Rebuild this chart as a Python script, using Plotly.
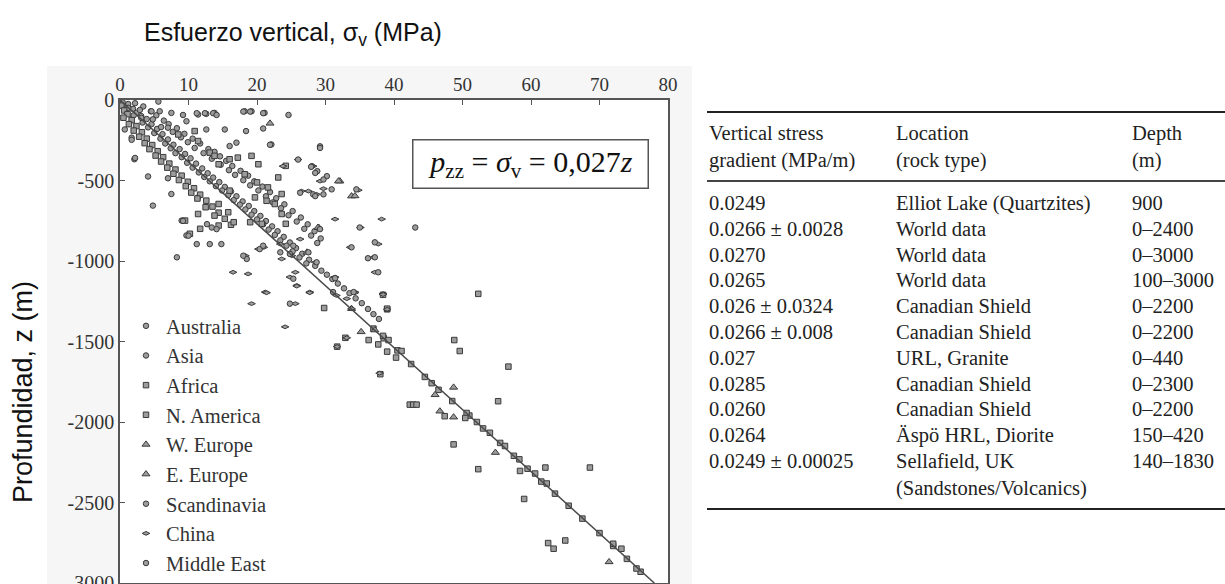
import plotly.graph_objects as go

# ---------------- data ----------------
x_ticks = [0, 10, 20, 30, 40, 50, 60, 70, 80]
y_ticks = [0, -500, -1000, -1500, -2000, -2500, -3000]
y_ticktext = ["0", "-500", "-1000", "-1500", "-2000", "-2500", "-3000"]

# (vertical stress MPa, depth m)
australia = [(0.4,-15),(1.2,-25),(0.9,-50),(1.9,-55),(2.4,-80),(2.0,-95),(3.1,-100),(3.9,-118),(3.3,-140),(4.6,-150),
             (4.1,-170),(5.4,-180),(5.0,-205),(6.2,-212),(5.9,-240),(7.0,-245),(6.6,-270),(7.8,-278),(7.4,-300),(8.7,-305),
             (8.1,-330),(9.5,-335),(9.0,-355),(10.3,-362),(9.8,-390),(11.1,-395),(10.6,-420),(12.0,-425),(11.5,-450),(12.8,-455),
             (12.3,-478),(13.6,-482),(13.1,-505),(14.5,-510),(14.0,-535),(15.3,-540),(14.9,-562),(16.2,-568),(15.8,-590),(17.0,-598),
             (16.6,-622),(17.9,-630),(17.5,-650),(18.8,-658),(18.3,-680),(19.6,-690),(19.2,-712),(20.5,-720),(20.0,-742),(21.3,-752),
             (20.9,-772),(22.2,-785),(21.7,-805),(23.0,-815),(22.6,-838),(23.9,-850),(23.4,-872),(24.8,-885),(24.3,-905),(25.7,-920),
             (25.2,-940),(26.6,-955),(26.2,-978),(27.6,-992),(27.2,-1015),(28.5,-1030),(29.4,-1060),(30.2,-1085),(31.0,-1112),(31.8,-1140),
             (32.7,-1170),(33.5,-1200),(34.4,-1232),(35.3,-1262),(36.2,-1298),(37.0,-1330),(37.8,-1360)]
asia = [(2.2,-20),(3.4,-40),(2.9,-62),(4.5,-70),(5.3,-95),(4.8,-120),(6.4,-128),(7.1,-150),(6.0,-168),(8.3,-175),
        (7.7,-198),(9.4,-210),(8.9,-232),(10.6,-240),(9.9,-262),(11.7,-270),(10.9,-298),(12.9,-305),(12.2,-330),(13.8,-322),
        (14.6,-350),(13.4,-365),(15.5,-378),(14.7,-402),(16.4,-410),(15.9,-436),(17.6,-440),(16.8,-465),(18.7,-470),(18.0,-498),
        (19.6,-505),(19.0,-530),(20.8,-538),(20.2,-562),(21.9,-572),(21.3,-598),(22.8,-610),(22.3,-636),(24.0,-648),(23.5,-672),
        (25.2,-690),(24.6,-716),(26.4,-730),(25.8,-755),(27.4,-772),(26.9,-800),(28.4,-815),(27.9,-842),(29.3,-860),(28.8,-888),
        (0.7,-183),(1.7,-234),(2.1,-368),(4.1,-475),(4.8,-656),(9.0,-749),(9.7,-841),(7.0,-486),(7.5,-584),(11.4,-605),
        (13.8,-80),(12.6,-86),(11.4,-90),(18.2,-70),(19.2,-70),(21.1,-80),(20.9,-177),(18.4,-193),(17.0,-265),(16.0,-286),
        (22.1,-276),(15.3,-183),(12.6,-183),(9.7,-132),(7.5,-80),(5.8,-70),(1.2,-49),(4.6,-70),(3.1,-111),(7.0,-172)]
africa = [(0.2,-35),(0.6,-65),(1.1,-88),(0.5,-110),(1.7,-125),(1.3,-150),(2.4,-162),(2.0,-190),(3.2,-200),(2.8,-228),
          (3.9,-240),(3.6,-268),(4.7,-280),(4.3,-305),(5.5,-318),(5.2,-345),(6.3,-355),(6.0,-382),(7.2,-395),(6.9,-420),
          (8.1,-432),(7.8,-458),(9.0,-470),(8.6,-497),(9.9,-508),(9.6,-535),(10.8,-548),(10.4,-575),(11.7,-588),(11.3,-612),
          (12.6,-625),(13.5,-662),(14.4,-700),(15.3,-738),(16.2,-775),
          (8.5,-214),(10.9,-193),(11.4,-255),(13.1,-327),(13.8,-347),(14.4,-399),(16.0,-368),(17.2,-358),(19.2,-347),(20.2,-399),
          (18.2,-461),(20.0,-512),(21.6,-543),(23.1,-481),(24.2,-409),(23.6,-584),(22.6,-646),(21.4,-626),(19.7,-605),(16.0,-563),
          (14.4,-646),(12.5,-666),(11.4,-708),(13.8,-718),(15.8,-697),(16.6,-759),(19.0,-759),(20.7,-769),(23.6,-708),(24.2,-769),
          (9.5,-749),(10.2,-831),(11.7,-800),(14.4,-780)]
n_america = [(37,-1420),(38.5,-1480),(40.5,-1555),(42.5,-1640),(44.5,-1720),(46.5,-1800),(48.5,-1870),(51,-1960),(53,-2040),(55.5,-2130),
             (57.5,-2210),(59.5,-2290),(61.5,-2370),(63.5,-2445),(65.5,-2520),(67.5,-2600),(70,-2690),(72,-2770),(74,-2850),(76,-2930),
             (29.8,-1292),(39,-1300),(32.9,-1477),(31.7,-1532),(36.3,-1491),(38.4,-1465),(39.2,-1491),(37.7,-1518),(39.0,-1563),(40.3,-1600),
             (41.1,-1559),(38,-1703),(45.5,-1759),(42.3,-1892),(42.8,-1892),(43.3,-1892),(47.4,-1964),(50.6,-1944),(50.4,-1975),(52.1,-2000),
             (54.0,-2067),(48.7,-2139),(48.8,-1491),(49.6,-1559),(56.7,-1656),(55.2,-1871),(56.2,-2149),(52.3,-2293),(58.4,-2304),(58.3,-2232),
             (60.6,-2320),(62.1,-2283),(62.3,-2382),(68.6,-2283),(59,-2478),(62.5,-2752),(63.3,-2787),(65,-2736),(72,-2756),(73.2,-2787),
             (75.4,-2910),(52.3,-1204),(38.4,-1210),(39.0,-1296)]
w_europe = [(35.2,-1440),(37.2,-1429),(48.7,-1785),(46,-1831),(46.7,-1933),(48.7,-1970),(54.8,-2190),(71.4,-2869),
            (32.1,-504),(33.8,-597),(29,-792)]
e_europe = [(31.9,-504),(34.3,-596),(28.9,-792),(27.3,-946),(21.9,-145),(33.8,-1296)]
scandinavia = [(5.6,-10),(9.2,-93),(11.2,-82),(12.4,-82),(13.6,-82),(14.1,-93),(18,-72),(19,-72),(20.9,-82),(24.6,-93),
               (1.7,-247),(2.2,-360),(9.2,-751),(10,-843),(11.2,-895),(8.3,-977),(13.1,-895),(14.8,-895),(13.4,-792),(14.1,-802),
               (12.7,-771)]
china = [(26.0,-370),(28.2,-411),(23.8,-411),(29.2,-504),(26.5,-566),(27.5,-566),(28.7,-586),(29.7,-551),(34.8,-560),(31.4,-740),
         (38.2,-740),(35.1,-792),(26.3,-864),(33.6,-915),(37.7,-895),(37,-977),(28.5,-1008),(37.2,-1070),(31.4,-1100),(27.7,-1193),
         (21.2,-1193),(34.3,-1193),(38.4,-1203),(24.8,-1100),(25.6,-1070),(25.8,-1152),(23.6,-987),(25.1,-967),(21,-915),(20.2,-926),
         (18.3,-967),(16.5,-1070),(18.7,-1080),(23.4,-895),
         (21.4,-1197),(25.8,-1156),(27.7,-1197),(19.2,-1265),(25.6,-1265),(24.1,-1409),(31.6,-1214),(33.1,-1234),(33.8,-1296),(34.3,-1197),
         (38.4,-1208),(39.0,-1300),(33.1,-1477),(31.7,-1532),(37.9,-1697)]
middle_east = [(21.9,-278),(26,-370),(29.2,-288),(28,-411),(28.8,-442),(30.2,-473),(30.9,-555),(26.3,-576),(28.2,-586),(29.7,-586),
               (34.5,-555),(35,-792),(29.2,-802),(37.2,-884),(37.2,-977),(37.7,-1070),(34.1,-1193),(31.1,-1193),(25.3,-1110),(24.8,-1265),
               (18.5,-987),(18,-967),(20.4,-926),(20.9,-905),(23.4,-946),(24.8,-956),(25.3,-905),(27.5,-946),(28.7,-1008),
               (29.2,-298),(27.9,-415),(28.5,-453),(29.7,-494),(28.5,-597),(43.1,-792),(33.8,-915),(36.2,-983),(31.4,-1107)]

series_names = ["Australia", "Asia", "Africa", "N. America", "W. Europe", "E. Europe",
                "Scandinavia", "China", "Middle East"]
series_points = [australia, asia, africa, n_america, w_europe, e_europe, scandinavia, china, middle_east]
series_symbols = ["circle", "circle", "square", "square", "triangle-up", "triangle-up",
                  "circle", "diamond-wide", "circle"]

trend_stress = [0, 78]
trend_depth = [0, -3000]

table_header_1 = ["Vertical stress", "Location", "Depth"]
table_header_2 = ["gradient (MPa/m)", "(rock type)", "(m)"]
table_gradient = ["0.0249", "0.0266 ± 0.0028", "0.0270", "0.0265", "0.026 ± 0.0324", "0.0266 ± 0.008",
                  "0.027", "0.0285", "0.0260", "0.0264", "0.0249 ± 0.00025"]
table_location = ["Elliot Lake (Quartzites)", "World data", "World data", "World data", "Canadian Shield",
                  "Canadian Shield", "URL, Granite", "Canadian Shield", "Canadian Shield", "Äspö HRL, Diorite",
                  "Sellafield, UK<br>(Sandstones/Volcanics)"]
table_depth = ["900", "0–2400", "0–3000", "100–3000", "0–2200", "0–2200", "0–440", "0–2300", "0–2200",
               "150–420", "140–1830"]

# ---------------- layout geometry (pixels) ----------------
W, H = 1225, 584
PL, PR, PT, PB = 120, 668, 100, 583
SERIF = "Liberation Serif, Times New Roman, serif"
SANS = "Liberation Sans, Arial, sans-serif"


def px(x):
    return (x - PL) / (PR - PL)


def py(y):
    return (PB - y) / (PB - PT)


fig = go.Figure()

for name, pts, sym in zip(series_names, series_points, series_symbols):
    fig.add_trace(go.Scatter(
        x=[p[0] for p in pts], y=[p[1] for p in pts], mode="markers", name=name,
        legendgroup=name,
        marker=dict(symbol=sym, size=5.5 if "triangle" not in sym else 7, color="#9c9c9c",
                    line=dict(color="#3a3a3a", width=1)),
    ))

fig.add_trace(go.Scatter(x=trend_stress, y=trend_depth, mode="lines", showlegend=False,
                         line=dict(color="#4a4a4a", width=1.5)))

shapes = []
# faint scanned frame around the chart
for x0, y0, x1, y1 in [(47, 66, 692, PT), (47, PT, PL, H), (PR, PT, 692, H)]:
    shapes.append(dict(type="rect", xref="paper", yref="paper", x0=px(x0), x1=px(x1), y0=py(y1), y1=py(y0),
                       fillcolor="#f6f6f6", line=dict(width=0), layer="below"))

annotations = []
annotations.append(dict(text="Esfuerzo vertical, σ<sub>v</sub> (MPa)", xref="paper", yref="paper",
                        x=px(293), y=py(34), xanchor="center", yanchor="middle", showarrow=False,
                        font=dict(family=SANS, size=25, color="#111")))
annotations.append(dict(text="Profundidad, z (m)", xref="paper", yref="paper", textangle=-90,
                        x=px(23), y=py(392), xanchor="center", yanchor="middle", showarrow=False,
                        font=dict(family=SANS, size=27, color="#111")))
annotations.append(dict(text="<i>p</i><sub>zz</sub> = <i>σ</i><sub>v</sub> = 0,027<i>z</i>", xref="paper", yref="paper",
                        x=px(530), y=py(163.5), xanchor="center", yanchor="middle", showarrow=False,
                        width=234, height=47, borderpad=0,
                        bordercolor="#555", borderwidth=1.5, bgcolor="white",
                        font=dict(family=SERIF, size=30, color="#111")))

# table
TX = [707, 894, 1130]
T_TOP, T_HEAD, T_RULE, T_ROW0, T_STEP, T_BOT = 112, 147, 181, 203, 25.8, 509
tfont = dict(family=SERIF, size=20.5, color="#222")
for y0, lw, col in [(T_TOP, 2, "#222"), (T_RULE, 2, "#444"), (T_BOT, 2, "#222")]:
    shapes.append(dict(type="line", xref="paper", yref="paper", x0=px(707), x1=px(1225), y0=py(y0), y1=py(y0),
                       line=dict(color=col, width=lw)))
for c in range(3):
    annotations.append(dict(text=table_header_1[c] + "<br>" + table_header_2[c], xref="paper", yref="paper",
                            x=px(TX[c]), y=py(T_HEAD), xanchor="left", yanchor="middle", align="left",
                            showarrow=False, font=tfont))
for r in range(len(table_gradient)):
    yy = T_ROW0 + T_STEP * r
    for c, col in enumerate([table_gradient, table_location, table_depth]):
        two = "<br>" in col[r]
        annotations.append(dict(text=col[r], xref="paper", yref="paper", x=px(TX[c]),
                                y=py(yy - 13) if two else py(yy),
                                xanchor="left", yanchor="top" if two else "middle", align="left",
                                showarrow=False, font=tfont))

fig.update_layout(
    width=W, height=H,
    margin=dict(l=PL, r=W - PR, t=PT, b=H - PB, pad=0, autoexpand=False),
    paper_bgcolor="white", plot_bgcolor="white",
    showlegend=True,
    legend=dict(x=px(126), y=py(306), xanchor="left", yanchor="top", bgcolor="rgba(0,0,0,0)",
                font=dict(family=SERIF, size=20.5, color="#333"), traceorder="grouped", tracegroupgap=0,
                itemsizing="trace"),
    xaxis=dict(range=[0, 80], side="top", tickvals=x_ticks, ticks="inside", ticklen=5, tickcolor="#555",
               showline=True, linecolor="#555", linewidth=1.5, mirror=True, showgrid=False, zeroline=False,
               ticklabeloverflow="allow",
               tickfont=dict(family=SERIF, size=19, color="#333")),
    yaxis=dict(range=[-3000, 0], tickvals=y_ticks, ticktext=y_ticktext, ticks="inside", ticklen=5, tickcolor="#555",
               showline=True, linecolor="#555", linewidth=1.5, mirror=True, showgrid=False, zeroline=False,
               ticklabeloverflow="allow",
               tickfont=dict(family=SERIF, size=20, color="#333")),
    shapes=shapes, annotations=annotations,
)

fig.write_html("out.html")
